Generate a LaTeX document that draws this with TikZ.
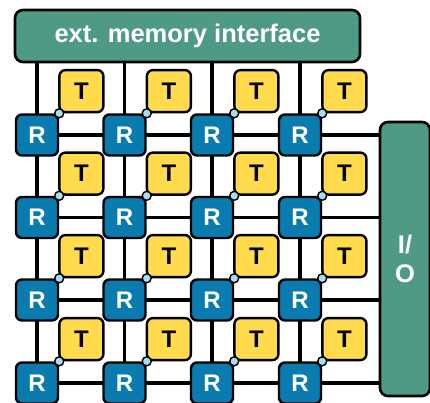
\documentclass[tikz,border=0pt]{standalone}
\usepackage{fontspec}
\setmainfont{Liberation Sans}
\usetikzlibrary{backgrounds}
\definecolor{teal1}{HTML}{4F9A86}
\definecolor{rblue}{HTML}{0A7BAE}
\definecolor{tyel}{HTML}{FFDB4D}
\definecolor{cblue}{HTML}{ABDCEB}
\tikzset{
  rbox/.style={draw=black, line width=2.4pt, fill=rblue, rounded corners=6pt, minimum width=42pt, minimum height=41pt, inner sep=0pt, text=white, font=\bfseries\fontsize{24}{24}\selectfont},
  tbox/.style={draw=black, line width=2.4pt, fill=tyel, rounded corners=6pt, minimum width=44pt, minimum height=42pt, inner sep=0pt, anchor=south west, text=black, font=\bfseries\fontsize{24}{24}\selectfont},
  dotc/.style={circle, draw=black, line width=1.4pt, fill=cblue, minimum size=9pt, inner sep=0pt},
  bigbox/.style={draw=black, line width=2.6pt, fill=teal1, rounded corners=8pt, inner sep=0pt, text=white, font=\bfseries\fontsize{25.5}{29}\selectfont},
  wire/.style={draw=black, line width=3.8pt}
}
\begin{document}
\begin{tikzpicture}[x=1pt,y=-1pt]
\begin{scope}[on background layer]
\fill[white] (0,0) rectangle (430,403);
\end{scope}
\useasboundingbox (0,0) rectangle (430,403);
\node[bigbox, minimum width=345pt, minimum height=52pt] (mem) at (187.5,36) {ext. memory interface};
\node[bigbox, minimum width=50pt, minimum height=274pt, align=center] (io) at (405,259) {I/\\O};
\foreach \i/\y in {1/135,2/217.5,3/300,4/383}{
  \foreach \j/\x in {1/37,2/124.5,3/212,4/300}{
    \node[rbox] (r-\i-\j) at (\x,\y) {R};
    \node[tbox] (t-\i-\j) at ([xshift=-1pt]r-\i-\j.north east) {T};
    \node[dotc] (c-\i-\j) at (r-\i-\j.north east) {};
  }
}
\begin{scope}[on background layer]
\foreach \j in {1,2,3,4}{
  \draw[wire] (mem.south -| r-1-\j) -- (r-1-\j.center);
  \foreach \i/\k in {1/2,2/3,3/4}{
    \draw[wire] (r-\i-\j.center) -- (r-\k-\j.center);
  }
}
\foreach \i in {1,2,3,4}{
  \foreach \j/\k in {1/2,2/3,3/4}{
    \draw[wire] (r-\i-\j.center) -- (r-\i-\k.center);
  }
  \draw[wire] (r-\i-4.center) -- (r-\i-4.center -| io.west);
}
\end{scope}
\end{tikzpicture}
\end{document}
